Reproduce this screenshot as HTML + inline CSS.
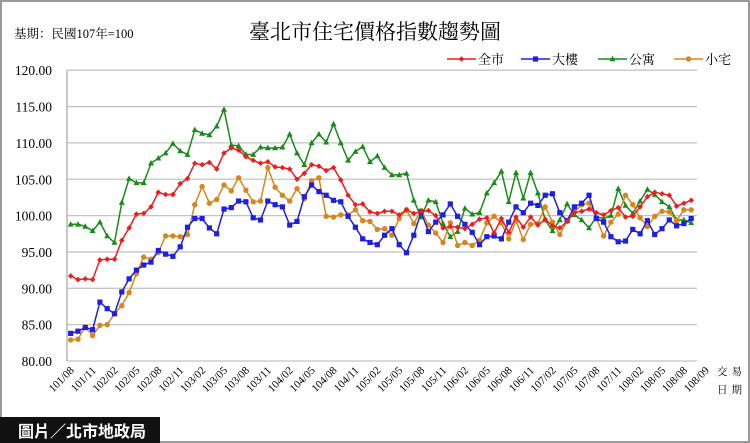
<!DOCTYPE html>
<html><head><meta charset="utf-8"><style>
html,body{margin:0;padding:0;background:#fff}
svg{display:block}
</style></head><body>
<svg id="c" width="750" height="443" xmlns="http://www.w3.org/2000/svg" font-family="'Liberation Serif','Noto Serif CJK SC',serif"></svg>
<script>
const red=[91.7,91.2,91.3,91.2,93.9,94.0,94.0,96.6,98.3,100.2,100.3,101.2,103.2,102.9,102.9,104.4,105.1,107.2,107.0,107.3,106.4,108.6,109.3,109.0,108.1,107.6,107.2,107.4,106.7,106.6,106.4,105.0,105.8,107.0,106.8,106.2,106.6,104.9,102.8,101.5,101.6,100.5,100.3,100.6,100.6,100.1,100.8,100.3,100.5,100.7,100.0,98.3,98.5,98.4,98.2,98.8,99.5,99.7,97.6,99.6,97.7,99.8,98.4,99.8,98.7,99.5,98.6,98.3,99.2,100.4,100.6,100.9,100.4,100.1,100.7,101.1,99.8,99.9,101.2,102.6,103.2,103.0,102.8,101.3,101.7,102.1];
const blue=[83.8,84.1,84.6,84.3,88.1,87.2,86.5,89.5,91.3,92.5,93.2,93.6,95.2,94.7,94.4,95.7,98.4,99.6,99.6,98.3,97.5,100.9,101.1,102.0,101.9,99.7,99.4,102.0,101.5,101.2,98.7,99.2,102.6,104.2,103.3,102.8,102.1,101.9,99.9,98.4,96.8,96.3,96.0,97.3,98.2,96.0,94.9,97.3,100.5,97.8,99.1,100.1,101.6,99.9,98.8,97.7,96.0,97.1,97.2,96.8,99.1,101.2,100.4,101.7,101.4,102.8,103.0,100.4,99.3,101.2,101.7,102.8,99.6,99.1,97.1,96.4,96.5,98.1,97.5,99.3,97.4,98.2,99.4,98.6,98.9,99.6];
const green=[98.8,98.8,98.5,97.9,99.1,97.2,96.3,101.8,105.1,104.5,104.5,107.2,107.9,108.6,109.9,108.9,108.4,111.8,111.3,111.1,112.3,114.6,109.7,109.6,108.4,108.4,109.4,109.3,109.3,109.4,111.2,108.6,107.0,110.0,111.2,110.1,112.6,110.0,107.6,108.8,109.5,107.4,108.2,106.6,105.6,105.6,105.8,102.1,99.8,102.1,101.9,98.9,97.1,97.8,101.0,100.2,100.4,103.1,104.5,106.1,101.9,105.9,102.4,105.9,103.1,99.4,97.9,99.4,101.6,100.1,99.4,98.3,99.8,99.6,100.0,103.7,101.4,100.3,102.0,103.6,102.9,101.9,101.2,99.4,99.4,99.0];
const orange=[82.9,83.0,84.7,83.5,84.9,85.0,86.5,87.6,89.4,92.0,94.3,94.0,94.9,97.2,97.2,97.1,97.4,101.5,104.0,101.7,102.2,104.2,103.4,105.2,103.5,101.9,102.0,106.6,103.9,102.8,102.0,103.7,102.3,104.8,105.2,99.9,99.8,100.1,100.1,100.8,99.3,99.2,98.1,98.2,97.3,99.6,100.8,98.9,100.7,98.7,97.6,96.3,99.0,95.9,96.3,95.9,96.6,99.0,99.9,99.0,96.8,99.3,96.7,98.8,98.9,101.2,99.1,97.4,99.3,100.5,101.5,101.7,99.7,97.2,99.1,100.2,102.8,101.5,99.7,98.5,99.9,100.6,100.5,99.3,100.8,100.8];
const X=i=>70.7+7.3*i, Y=v=>361-(v-80)*7.27;
let s='';
s+='<rect x="1" y="1" width="748" height="441" fill="#fff" stroke="#999" stroke-width="2"/>';
s+='<text x="375" y="39" font-size="21" text-anchor="middle" fill="#000">臺北市住宅價格指數趨勢圖</text>';
s+='<text x="14" y="38" font-size="12.5" fill="#000">基期：民國107年=100</text>';
for(let k=0;k<=8;k++){const v=80+5*k,y=Y(v);
 s+=`<line x1="67" y1="${y}" x2="697" y2="${y}" stroke="#c4c4c4" stroke-width="1.3"/>`;
 s+=`<text x="52" y="${y+5}" font-size="13.5" text-anchor="end" fill="#000">${v.toFixed(2)}</text>`;}
s+=`<line x1="67" y1="${Y(120)}" x2="67" y2="${Y(80)}" stroke="#aaa" stroke-width="1.3"/>`;
const m=['101/08','101/11','102/02','102/05','102/08','102/11','103/02','103/05','103/08','103/11','104/02','104/05','104/08','104/11','105/02','105/05','105/08','105/11','106/02','106/05','106/08','106/11','107/02','107/05','107/08','107/11','108/02','108/05','108/08','108/09'];
m.forEach((t,j)=>{const x=X(j*3)+4;s+=`<text transform="translate(${x},371) rotate(-45)" font-size="11" text-anchor="end" fill="#000">${t}</text>`;});
s+='<text x="717" y="375" font-size="10.5" fill="#000" letter-spacing="4">交易</text><text x="717" y="393" font-size="10.5" fill="#000" letter-spacing="4">日期</text>';
function mk(type,x,y,c){
 if(type==0)return `<path d="M${x} ${y-2.8}L${x+2.8} ${y}L${x} ${y+2.8}L${x-2.8} ${y}Z" fill="${c}"/>`;
 if(type==1)return `<rect x="${x-2.6}" y="${y-2.6}" width="5.2" height="5.2" fill="${c}"/>`;
 if(type==2)return `<path d="M${x} ${y-3.2}L${x+3} ${y+2.3}L${x-3} ${y+2.3}Z" fill="${c}"/>`;
 return `<circle cx="${x}" cy="${y}" r="2.7" fill="${c}"/>`;}
const ser=[[green,'#1a8a1a',2],[orange,'#d7861f',3],[blue,'#1f1fe0',1],[red,'#ee1c1c',0]];
ser.forEach(([d,c,t])=>{
 s+=`<polyline fill="none" stroke="${c}" stroke-width="1.5" points="${d.map((v,i)=>X(i).toFixed(1)+','+Y(v).toFixed(1)).join(' ')}"/>`;
 d.forEach((v,i)=>s+=mk(t,X(i),Y(v),c));});
const lg=[[447,'#ee1c1c',0,'全市'],[521,'#1f1fe0',1,'大樓'],[598,'#1a8a1a',2,'公寓'],[674,'#d7861f',3,'小宅']];
lg.forEach(([x,c,t,n])=>{s+=`<line x1="${x}" y1="59" x2="${x+29}" y2="59" stroke="${c}" stroke-width="1.6"/>`+mk(t,x+14.5,59,c)+`<text x="${x+31}" y="64" font-size="13" fill="#000">${n}</text>`;});
s+='<rect x="0" y="417" width="160" height="26" fill="#111"/>';
s+='<text x="18" y="437" font-size="16" font-weight="bold" fill="#fff" font-family="\'Noto Sans CJK TC\',sans-serif">圖片／北市地政局</text>';
document.getElementById('c').innerHTML=s;
</script>
</body></html>
